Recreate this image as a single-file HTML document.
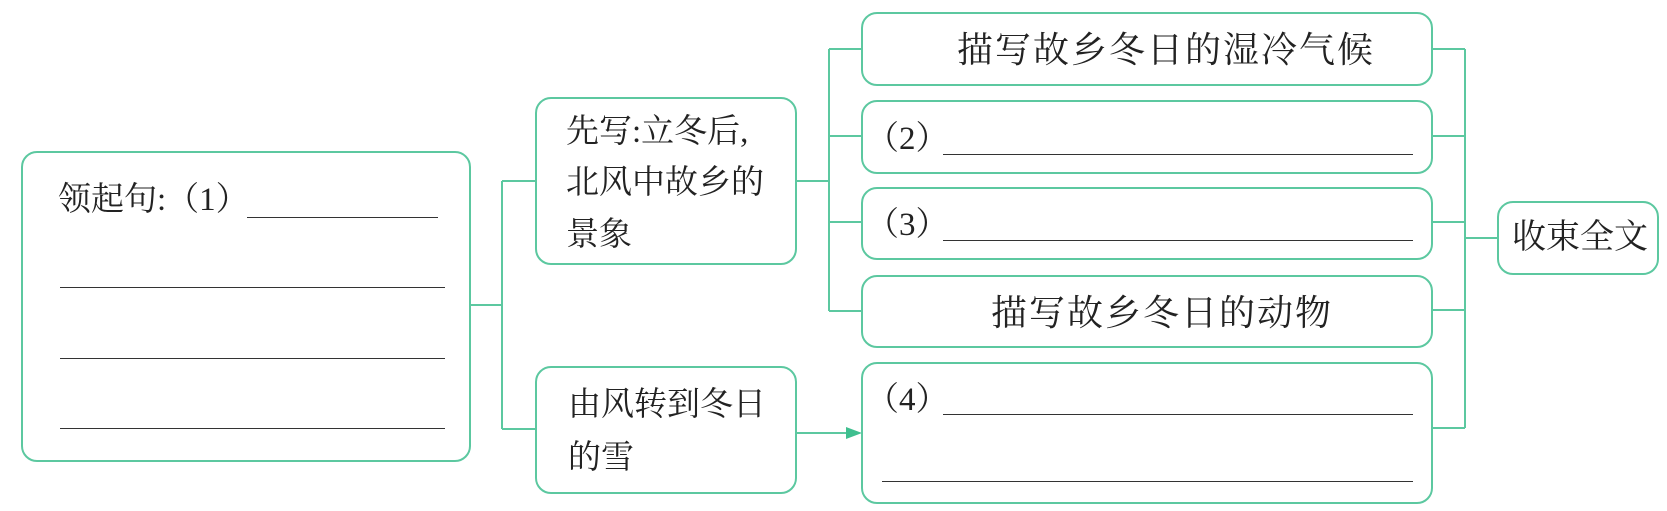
<!DOCTYPE html>
<html><head><meta charset="utf-8"><style>
body{margin:0;background:#fff;width:1667px;height:511px;position:relative;overflow:hidden;font-family:"Liberation Serif","Noto Serif CJK SC","Noto Sans CJK SC",serif;color:#222}
.b{position:absolute;border:2px solid #5cc8a0;border-radius:16px;box-sizing:border-box;background:transparent}
.t{position:absolute;font-size:33px;line-height:1;white-space:nowrap}
.u{position:absolute;height:0;border-top:1.5px solid #333}
svg{position:absolute;left:0;top:0}
</style></head><body>
<svg width="1667" height="511"><g stroke="#5cc8a0" stroke-width="2" fill="none">
<path d="M470 305H502M502 181V429M502 181H535M502 429H535"/>
<path d="M796 181H829M829 49V311M829 49H861M829 136H861M829 222H861M829 311H861"/>
<path d="M796 433H848"/>
<path d="M1432 49H1465M1432 136H1465M1432 222H1465M1432 310H1465M1432 428H1465M1465 49V428M1465 238H1497"/>
</g><path d="M846 427L862 433L846 439Z" fill="#3fbf8f"/></svg>
<div class="b" style="left:21px;top:151px;width:450px;height:311px"></div>
<div class="t" style="left:58px;top:184px">领起句:（1）</div>
<div class="u" style="left:247px;top:217px;width:191px"></div>
<div class="u" style="left:60px;top:287px;width:385px"></div>
<div class="u" style="left:60px;top:358px;width:385px"></div>
<div class="u" style="left:60px;top:428px;width:385px"></div>
<div class="b" style="left:535px;top:97px;width:262px;height:168px"></div>
<div class="t" style="left:566px;top:116px">先写:立冬后,</div>
<div class="t" style="left:566px;top:167px">北风中故乡的</div>
<div class="t" style="left:566px;top:219px">景象</div>
<div class="b" style="left:535px;top:366px;width:262px;height:128px"></div>
<div class="t" style="left:568px;top:389px">由风转到冬日</div>
<div class="t" style="left:568px;top:442px">的雪</div>
<div class="b" style="left:861px;top:12px;width:572px;height:74px"></div>
<div class="t" style="left:957px;top:32px;font-size:36px;letter-spacing:2px">描写故乡冬日的湿冷气候</div>
<div class="b" style="left:861px;top:100px;width:572px;height:74px"></div>
<div class="t" style="left:866px;top:123px">（2）</div>
<div class="u" style="left:943px;top:154px;width:470px"></div>
<div class="b" style="left:861px;top:187px;width:572px;height:73px"></div>
<div class="t" style="left:866px;top:209px">（3）</div>
<div class="u" style="left:943px;top:240px;width:470px"></div>
<div class="b" style="left:861px;top:275px;width:572px;height:73px"></div>
<div class="t" style="left:991px;top:295px;font-size:36px;letter-spacing:2px">描写故乡冬日的动物</div>
<div class="b" style="left:861px;top:362px;width:572px;height:142px"></div>
<div class="t" style="left:866px;top:384px">（4）</div>
<div class="u" style="left:943px;top:414px;width:470px"></div>
<div class="u" style="left:882px;top:481px;width:531px"></div>
<div class="b" style="left:1497px;top:201px;width:162px;height:74px"></div>
<div class="t" style="left:1512px;top:221px;font-size:34px">收束全文</div>
</body></html>
